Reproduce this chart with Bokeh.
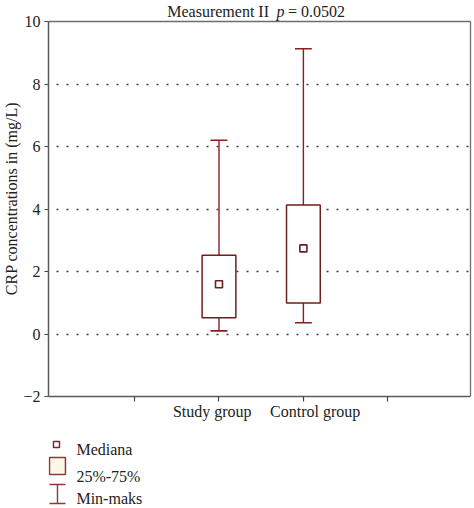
from bokeh.plotting import figure
from bokeh.models import ColumnDataSource, FixedTicker, Range1d, LinearAxis
from bokeh.layouts import column
from bokeh.core.properties import value
from bokeh.embed import file_html
from bokeh.resources import INLINE

# ---------------- data ----------------
groups = ["Study group", "Control group"]
positions = [2, 3]
minimum = [0.10, 0.36]
q1 = [0.52, 0.99]
median = [1.59, 2.74]
q3 = [2.52, 4.13]
maximum = [6.20, 9.13]

x_ticks = [1, 2, 3, 4]
y_ticks = [-2, 0, 2, 4, 6, 8, 10]
grid_ticks = [0, 2, 4, 6, 8]
title_parts = ["Measurement II", "p", "= 0.0502"]
y_label = "CRP concentrations in (mg/L)"
legend_labels = ["Mediana", "25%-75%", "Min-maks"]

FONT = "Liberation Serif"
TXT = "#222222"
BOX_COL = "#6e1e1e"
WHISK_COL = "#8b1f1f"
LEG_COL = "#8b3a3a"
FRAME_COL = "#6e6e6e"

# ---------------- geometry (pixels) ----------------
W = 474
BOX_L, BOX_R, BOX_T, BOX_B = 47, 470, 21, 396   # plot box on the page
FR = 2                                          # frame reaches 2px past the box
FB = 30
H_MAIN = BOX_B + FB
H_LEG = 508 - H_MAIN
XMIN, XMAX, YMIN, YMAX = -0.02, 4.98, -2, 10
pxx = (BOX_R - BOX_L) / (XMAX - XMIN)
pxy = (BOX_B - BOX_T) / (YMAX - YMIN)
X_END = XMAX + (W - FR - BOX_R) / pxx
Y_TOP = YMAX + BOX_T / pxy


def xd(px):
    return XMIN + (px - BOX_L) / pxx


def yd(py):
    return YMAX - (py - BOX_T) / pxy

# ---------------- main plot (frame reaches the top edge, title inside) ----------------
p = figure(width=W, height=H_MAIN, x_range=Range1d(XMIN, X_END), y_range=Range1d(YMIN, Y_TOP),
           output_backend="svg", toolbar_location=None, title=None,
           min_border_left=BOX_L, min_border_right=FR, min_border_top=0, min_border_bottom=FB,
           background_fill_color="white", border_fill_color="white")
p.outline_line_color = None

for ax in (p.xaxis[0], p.yaxis[0]):
    ax.axis_line_color = "#5a5a5a"
    ax.axis_line_width = 1.5
    ax.major_tick_line_color = "#444444"
    ax.major_tick_line_width = 1.2
    ax.major_tick_in = 0
    ax.minor_tick_line_color = None
    ax.major_label_text_font = FONT
    ax.major_label_text_font_size = "16px"
    ax.major_label_text_color = TXT

# tick marks only
xa = p.xaxis[0]
xa.bounds = (XMIN, XMAX)
xa.ticker = FixedTicker(ticks=x_ticks)
xa.major_label_overrides = {t: "" for t in x_ticks}
xa.major_label_text_font_size = "0px"
xa.major_label_standoff = 0
xa.major_tick_out = 5

# category names (sit slightly off their ticks in the original)
cat_offsets = [-0.08, 0.14]
cat_ticks = [xpos + off for xpos, off in zip(positions, cat_offsets)]
xc = LinearAxis(ticker=FixedTicker(ticks=cat_ticks),
                major_label_overrides={t: g for t, g in zip(cat_ticks, groups)},
                axis_line_color=None, major_tick_line_color=None, minor_tick_line_color=None,
                major_tick_in=0, major_tick_out=0, major_label_standoff=1,
                major_label_text_font=FONT, major_label_text_font_size="16px",
                major_label_text_color=TXT)
p.add_layout(xc, "below")

ya = p.yaxis[0]
ya.bounds = (YMIN, YMAX)
ya.ticker = FixedTicker(ticks=y_ticks)
ya.major_label_overrides = {t: ("\u2212" + str(abs(t)) if t < 0 else str(t)) for t in y_ticks}
ya.major_tick_out = 4
ya.major_label_standoff = 4
ya.axis_label = y_label
ya.axis_label_text_font = FONT
ya.axis_label_text_font_size = "16px"
ya.axis_label_text_font_style = "normal"
ya.axis_label_text_color = TXT
ya.axis_label_standoff = 0

p.xgrid.grid_line_color = None
p.ygrid.ticker = FixedTicker(ticks=grid_ticks)
p.ygrid.grid_line_color = "#3a3a3a"
p.ygrid.grid_line_width = 1.3
p.ygrid.grid_line_dash = "2 8"
p.ygrid.grid_line_dash_offset = 2

# top and right border of the plot box
p.segment(x0=[XMIN, XMAX], y0=[YMAX, YMIN], x1=[XMAX, XMAX], y1=[YMAX, YMAX],
          line_color=FRAME_COL, line_width=1.3)

src = ColumnDataSource(dict(
    x=positions, lo=minimum, q1=q1, med=median, q3=q3, hi=maximum,
    cl=[x - 0.1 for x in positions], cr=[x + 0.1 for x in positions],
))

# whiskers
p.segment(x0="x", y0="q3", x1="x", y1="hi", source=src, line_color=WHISK_COL, line_width=1.4)
p.segment(x0="x", y0="q1", x1="x", y1="lo", source=src, line_color=WHISK_COL, line_width=1.4)
p.segment(x0="cl", y0="hi", x1="cr", y1="hi", source=src, line_color=WHISK_COL, line_width=1.6)
p.segment(x0="cl", y0="lo", x1="cr", y1="lo", source=src, line_color=WHISK_COL, line_width=1.6)
# boxes
p.vbar(x="x", width=0.4, bottom="q1", top="q3", source=src,
       fill_color="white", line_color=BOX_COL, line_width=1.5)
# medians
p.scatter(x="x", y="med", source=src, marker="square", size=7,
          fill_color="white", line_color=BOX_COL, line_width=1.6)

# title (mixed styles) above the box
ty = yd(11)
p.text(x=[xd(268)], y=[ty], text=[title_parts[0]], text_align="right", text_baseline="alphabetic",
       text_font=value(FONT), text_font_size="16px", text_color=TXT)
p.text(x=[xd(279.5)], y=[ty], text=[title_parts[1]], text_align="center",
       text_baseline="alphabetic", text_font=value(FONT), text_font_size="16px",
       text_font_style="italic", text_color=TXT)
p.text(x=[xd(287)], y=[ty], text=[title_parts[2]], text_align="left", text_baseline="alphabetic",
       text_font=value(FONT), text_font_size="16px", text_color=TXT)

# ---------------- legend strip (pixel coordinates) ----------------
leg = figure(width=W, height=H_LEG, x_range=Range1d(BOX_L, W - FR), y_range=Range1d(H_LEG, 0),
             x_axis_location=None, y_axis_location=None,
             output_backend="svg", toolbar_location=None, title=None,
             min_border=0, min_border_left=BOX_L, min_border_right=FR,
             min_border_top=0, min_border_bottom=0,
             background_fill_color="white", border_fill_color="white")
leg.grid.visible = False
leg.outline_line_color = None

T0 = H_MAIN       # page y of the strip's top edge
LX = 56           # legend symbol centre (page px)
leg.scatter(x=[LX - 1], y=[444 - T0], marker="square", size=6, fill_color="white",
            line_color="#7a2a35", line_width=1.5)
leg.quad(left=[LX - 8], right=[LX + 8], top=[457 - T0], bottom=[474 - T0],
         fill_color="#fff7e6", line_color=LEG_COL, line_width=1.5)
leg.segment(x0=[LX], y0=[484 - T0], x1=[LX], y1=[503 - T0],
            line_color=LEG_COL, line_width=1.4)
leg.segment(x0=[LX - 8, LX - 8], y0=[484 - T0, 503 - T0],
            x1=[LX + 8, LX + 8], y1=[484 - T0, 503 - T0],
            line_color=LEG_COL, line_width=1.5)
leg.text(x=[75, 75, 75], y=[449 - T0, 476 - T0, 498 - T0], text=legend_labels,
         text_align="left", text_baseline="alphabetic", text_font=value(FONT),
         text_font_size="16px", text_color=TXT)

layout = column(p, leg, spacing=0)
open("out.html", "w").write(file_html(layout, INLINE))
